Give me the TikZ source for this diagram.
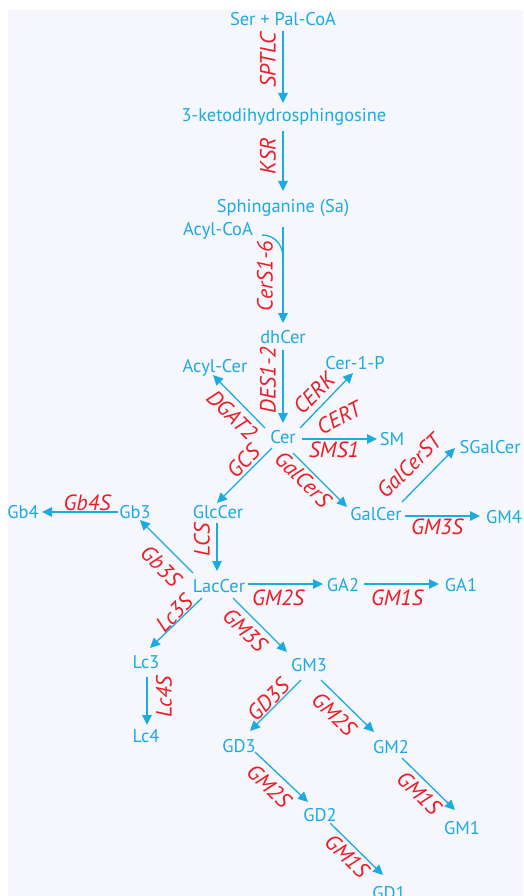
\documentclass[tikz,border=0pt]{standalone}
\usepackage{fontspec}
\setmainfont{PT Sans}
\usetikzlibrary{arrows.meta,calc}
\definecolor{cy}{RGB}{28,170,226}
\definecolor{rd}{RGB}{237,28,36}
\definecolor{bg}{RGB}{245,247,252}
\begin{document}
\begin{tikzpicture}[x=1pt,y=-1pt,
  met/.style={text=cy, font=\fontsize{18.4}{20}\selectfont, inner sep=0pt, text height=12.8pt, text depth=0pt},
  enz/.style={text=rd, font=\fontsize{22}{24}\selectfont\itshape, inner sep=0pt},
  arr/.style={draw=cy, line width=1.3pt, -{Triangle[length=10pt,width=9.5pt]}},
  ln/.style={draw=cy, line width=1.3pt}]
\useasboundingbox (0,0) rectangle (523,896);
\fill[bg] (8,10) rectangle (523,896);
% metabolites
\node[met] (ser) at (283,19) {Ser + Pal-CoA};
\node[met] (keto) at (284,115) {3-ketodihydrosphingosine};
\node[met] (sa) at (283,206) {Sphinganine (Sa)};
\node[met] (acoa) at (218,229) {Acyl-CoA};
\node[met] (dh) at (283,337) {dhCer};
\node[met] (acer) at (215,366) {Acyl-Cer};
\node[met] (c1p) at (355,363) {Cer-1-P};
\node[met] (cer) at (283,437) {Cer};
\node[met] (sm) at (392,439) {SM};
\node[met] (sgal) at (490,447) {SGalCer};
\node[met] (gal) at (376,514) {GalCer};
\node[met] (gm4) at (504,517) {GM4};
\node[met] (glc) at (218,512) {GlcCer};
\node[met] (gb3) at (135,512) {Gb3};
\node[met] (gb4) at (23,512) {Gb4};
\node[met] (lac) at (219,586) {LacCer};
\node[met] (ga2) at (343,585) {GA2};
\node[met] (ga1) at (461,585) {GA1};
\node[met] (gm3) at (309,665) {GM3};
\node[met] (lc3) at (146,662) {Lc3};
\node[met] (lc4) at (146,736) {Lc4};
\node[met] (gd3) at (239,746) {GD3};
\node[met] (gm2) at (391,747) {GM2};
\node[met] (gd2) at (320,815) {GD2};
\node[met] (gm1) at (462,828) {GM1};
\node[met] (gd1) at (389,893) {GD1};
% arrows
\draw[arr] ([shift={(0,12)}]ser.center) -- ([shift={(-1,-12)}]keto.center);
\draw[arr] ([shift={(-1,16)}]keto.center) -- ([shift={(0,-15)}]sa.center);
\draw[arr] ([shift={(0,21)}]sa.center) -- ([shift={(0,-14)}]dh.center);
\coordinate (jn) at ([shift={(0,52)}]sa.center);
\draw[ln] ([shift={(44,6)}]acoa.center) .. controls +(13,0) and +(0,-13) .. (jn);
\draw[arr] ([shift={(0,13)}]dh.center) -- ([shift={(0,-14)}]cer.center);
\draw[arr] ([shift={(-18,-9)}]cer.center) -- ([shift={(-2,9)}]acer.center);
\draw[arr] ([shift={(17,-9)}]cer.center) -- ([shift={(-2,10)}]c1p.center);
\draw[arr] ([shift={(19,2)}]cer.center) -- ([shift={(-15,0)}]sm.center);
\draw[arr] ([shift={(-11,11)}]cer.center) -- ([shift={(-1,-9)}]glc.center);
\draw[arr] ([shift={(10,16)}]cer.center) -- ([shift={(-29,-7)}]gal.center);
\draw[arr] ([shift={(26,-12)}]gal.center) -- ([shift={(-35,1)}]sgal.center);
\draw[arr] ([shift={(29,2)}]gal.center) -- ([shift={(-24,-1)}]gm4.center);
\draw[arr] ([shift={(-1,11)}]glc.center) -- ([shift={(-2,-15)}]lac.center);
\draw[arr] ([shift={(-26,-13)}]lac.center) -- ([shift={(5,8)}]gb3.center);
\draw[arr] ([shift={(-17,0)}]gb3.center) -- ([shift={(19,0)}]gb4.center);
\draw[arr] ([shift={(-17,12)}]lac.center) -- ([shift={(4,-14)}]lc3.center);
\draw[arr] ([shift={(1,15)}]lc3.center) -- ([shift={(1,-11)}]lc4.center);
\draw[arr] ([shift={(29,-2)}]lac.center) -- ([shift={(-20,-1)}]ga2.center);
\draw[arr] ([shift={(21,-1)}]ga2.center) -- ([shift={(-22,-1)}]ga1.center);
\draw[arr] ([shift={(14,12)}]lac.center) -- ([shift={(-22,-13)}]gm3.center);
\draw[arr] ([shift={(-8,15)}]gm3.center) -- ([shift={(11,-15)}]gd3.center);
\draw[arr] ([shift={(12,15)}]gm3.center) -- ([shift={(-17,-15)}]gm2.center);
\draw[arr] ([shift={(16,6)}]gd3.center) -- ([shift={(-12,-13)}]gd2.center);
\draw[arr] ([shift={(11,11)}]gm2.center) -- ([shift={(-7,-18)}]gm1.center);
\draw[arr] ([shift={(10,8)}]gd2.center) -- ([shift={(-6,-18)}]gd1.center);
% enzymes
\node[enz,rotate=90] (e1) at (268,60) {SPTLC};
\node[enz,rotate=90] (e2) at (268,156) {KSR};
\node[enz,rotate=90] (e3) at (265,276) {CerS1-6};
\node[enz,rotate=90] (e4) at (268,380) {DES1-2};
\node[enz,rotate=-45] (e5) at (232,415) {DGAT2};
\node[enz,rotate=45] (e6) at (314,393) {CERK};
\node[enz,rotate=27] (e7) at (339,418) {CERT};
\node[enz] (e8) at (334,450) {SMS1};
\node[enz,rotate=45] (e9) at (243,461) {GCS};
\node[enz,rotate=-45] (e10) at (303,479) {GalCerS};
\node[enz,rotate=45] (e11) at (409,466) {GalCerST};
\node[enz] (e12) at (437,527) {GM3S};
\node[enz] (e13) at (87,503) {Gb4S};
\node[enz,rotate=90] (e14) at (202,540) {LCS};
\node[enz,rotate=-45] (e15) at (161,566) {Gb3S};
\node[enz,rotate=45] (e16) at (174,613) {Lc3S};
\node[enz] (e17) at (278,598) {GM2S};
\node[enz] (e18) at (397,598) {GM1S};
\node[enz,rotate=-45] (e19) at (245,630) {GM3S};
\node[enz,rotate=90] (e20) at (164,697) {Lc4S};
\node[enz,rotate=45] (e21) at (268,700) {GD3S};
\node[enz,rotate=-45] (e22) at (334,714) {GM2S};
\node[enz,rotate=-45] (e23) at (269,786) {GM2S};
\node[enz,rotate=-45] (e24) at (419,793) {GM1S};
\node[enz,rotate=-45] (e25) at (347,856) {GM1S};
\end{tikzpicture}
\end{document}
